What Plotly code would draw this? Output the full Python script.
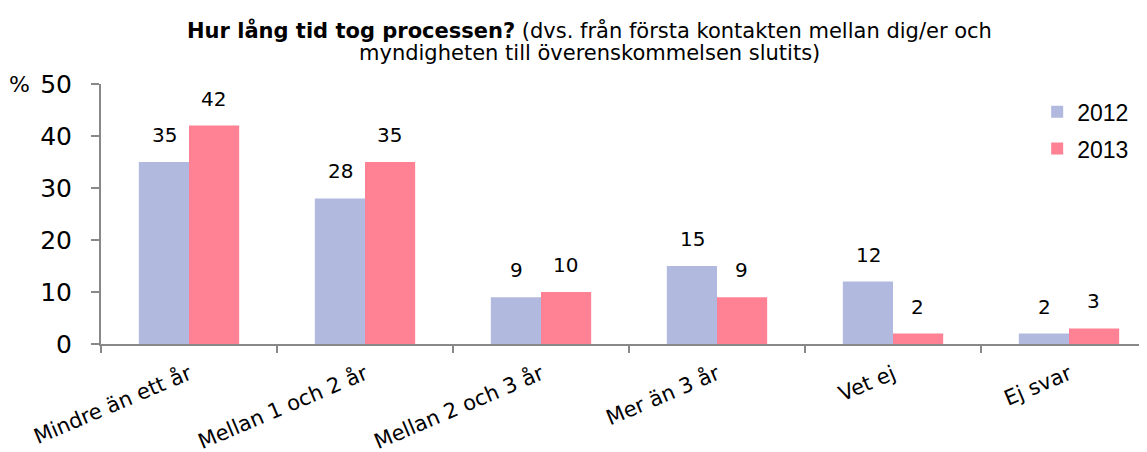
import plotly.graph_objects as go

categories = ["Mindre än ett år", "Mellan 1 och 2 år", "Mellan 2 och 3 år", "Mer än 3 år", "Vet ej", "Ej svar"]
series_names = ["2012", "2013"]
values_2012 = [35, 28, 9, 15, 12, 2]
values_2013 = [42, 35, 10, 9, 2, 3]
y_ticks = [0, 10, 20, 30, 40, 50]

title_line1 = "<b>Hur lång tid tog processen?</b> (dvs. från första kontakten mellan dig/er och"
title_line2 = "myndigheten till överenskommelsen slutits)"

colors = ["#B1B9DE", "#FF8294"]

W, H = 1139, 444
ML, MT = 93, 76
PW, PH = 1046, 260

fig = go.Figure()
for name, vals, col in zip(series_names, [values_2012, values_2013], colors):
    fig.add_trace(go.Bar(
        x=categories, y=vals, name=name,
        marker=dict(color=col, line=dict(width=0)),
        legendgroup=name,
    ))

offsets = [-0.142, 0.142]
for off, vals in zip(offsets, [values_2012, values_2013]):
    for i, v in enumerate(vals):
        fig.add_annotation(
            x=i + off, y=v, xref="x", yref="y", text=str(v), showarrow=False,
            yanchor="bottom", yshift=13,
            font=dict(family="DejaVu Sans", size=20, color="#000"),
        )

title_cx = (589 - 8 - ML) / PW
for txt, cy in [(title_line1, 30), (title_line2, 53)]:
    fig.add_annotation(
        xref="paper", yref="paper", x=title_cx, y=1 + (MT - (cy - 8)) / PH,
        xanchor="center", yanchor="middle", showarrow=False, text=txt,
        font=dict(family="DejaVu Sans", size=21, color="#000"),
    )
fig.add_annotation(
    xref="paper", yref="paper", x=-0.066, y=1.0, xanchor="right", yanchor="middle",
    showarrow=False, text="%",
    font=dict(family="DejaVu Sans", size=22, color="#000"),
)

fig.update_layout(
    width=W, height=H,
    margin=dict(l=ML, r=W - ML - PW, t=MT, b=H - MT - PH, pad=0),
    paper_bgcolor="white", plot_bgcolor="white",
    barmode="group", bargap=0.43, bargroupgap=0,
    showlegend=True,
    legend=dict(x=0.895, y=0.976, xanchor="left", yanchor="top",
                font=dict(family="Liberation Sans", size=23, color="#000"),
                tracegroupgap=4, itemwidth=30, bgcolor="rgba(0,0,0,0)"),
)
fig.update_xaxes(
    type="category", tickson="boundaries",
    range=[-0.5, -0.5 + PW / 176], tickangle=-23,
    showline=True, linecolor="#888888", linewidth=2,
    ticks="outside", ticklen=7, tickcolor="#888888", tickwidth=2,
    tickfont=dict(family="DejaVu Sans", size=21, color="#000"),
    ticklabelstandoff=8,
    showgrid=False, zeroline=False, automargin=False,
)
fig.update_yaxes(
    range=[0, 50], tickvals=y_ticks,
    showline=True, linecolor="#888888", linewidth=2,
    ticks="outside", ticklen=8, tickcolor="#888888", tickwidth=2,
    tickfont=dict(family="DejaVu Sans", size=25, color="#000"),
    ticklabelstandoff=14,
    showgrid=False, zeroline=False, automargin=False,
)
fig.write_html("out.html")
